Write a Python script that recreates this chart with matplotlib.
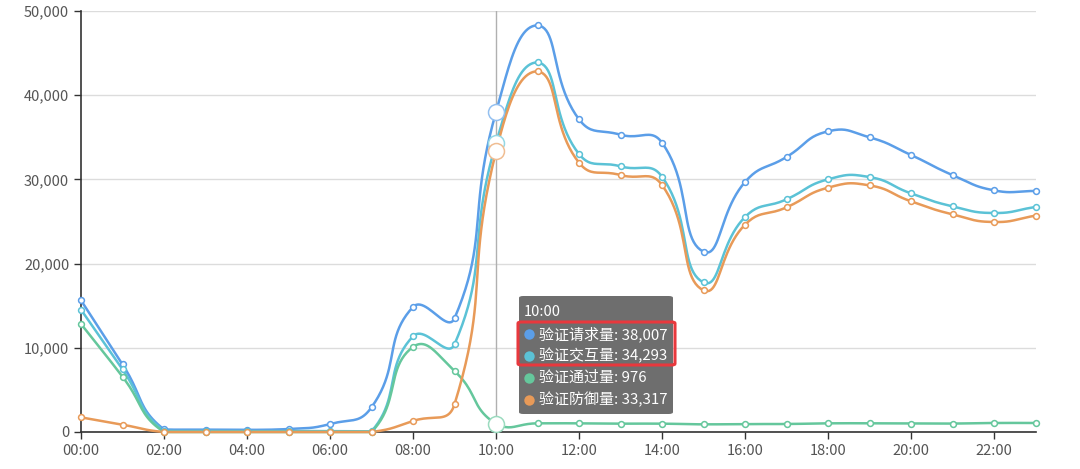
import matplotlib.pyplot as plt
from matplotlib.patches import FancyBboxPatch
from matplotlib.lines import Line2D
from matplotlib.colors import to_rgb
import numpy as np

plt.rcParams['font.family'] = ['Noto Sans CJK SC', 'DejaVu Sans']

# data: hourly values
hours = list(range(24))
tick_labels = ['%02d:00' % h for h in range(0, 24, 2)]

requests = [15640, 8040, 300, 280, 250, 350, 950, 2930, 14850, 13500, 38007, 48300,
            37140, 35310, 34360, 21420, 29690, 32660, 35710, 35000, 32900, 30520, 28700, 28620]
interact = [14530, 7440, 150, 120, 100, 120, 100, 80, 11360, 10410, 34293, 43900,
            33020, 31550, 30320, 17770, 25530, 27630, 30010, 30280, 28340, 26800, 26010, 26720]
passed = [12830, 6570, 0, 0, 0, 0, 0, 0, 10100, 7240, 976, 1030,
          1030, 990, 990, 910, 950, 950, 1030, 1030, 1000, 1000, 1070, 1070]
defense = [1740, 870, 0, 0, 0, 0, 0, 0, 1310, 3290, 33317, 42840,
           31990, 30520, 29330, 16830, 24620, 26680, 29020, 29290, 27400, 25850, 24940, 25690]

names = ['验证请求量', '验证交互量', '验证通过量', '验证防御量']
colors = ['#5b9ee8', '#5bc2d6', '#65c79c', '#e89a58']
series = [requests, interact, passed, defense]
hover_idx = 10

fig = plt.figure(figsize=(10.8, 4.69), dpi=100)
ax = fig.add_axes([0.075, 0.0789, 0.8838, 0.8976])
ax.set_xlim(0, 23)
ax.set_ylim(0, 50000)


def smooth_path(xs, ys, smooth=0.5, n=24):
    # bezier smoothing in pixel space, control points kept inside the series bbox
    pts = ax.transData.transform(np.column_stack([xs, ys]))
    lo = pts.min(axis=0)
    hi = pts.max(axis=0)
    m = len(pts)
    cps = []
    for i in range(m):
        p = pts[i]
        prev = pts[i - 1] if i > 0 else p
        nxt = pts[i + 1] if i < m - 1 else p
        v = nxt - prev
        d0 = np.hypot(*(p - prev))
        d1 = np.hypot(*(p - nxt))
        s = d0 + d1
        if s == 0:
            cps.append((p, p))
            continue
        c0 = np.clip(p - v * smooth * d0 / s, lo, hi)
        c1 = np.clip(p + v * smooth * d1 / s, lo, hi)
        cps.append((c0, c1))
    out = [pts[0]]
    t = np.linspace(0, 1, n)[1:, None]
    for i in range(m - 1):
        p0, p3 = pts[i], pts[i + 1]
        c1, c2 = cps[i][1], cps[i + 1][0]
        seg = ((1 - t) ** 3) * p0 + 3 * ((1 - t) ** 2) * t * c1 + 3 * (1 - t) * t ** 2 * c2 + t ** 3 * p3
        out.extend(seg)
    return ax.transData.inverted().transform(np.array(out))


def lighten(c, f=0.35):
    r = np.array(to_rgb(c))
    return tuple(r + (1 - r) * f)


ax.grid(axis='y', color='#dcdcdc', linewidth=1)
ax.set_axisbelow(True)
ax.axvline(hover_idx, color='#b0b0b0', linewidth=1, zorder=1)

for vals, c in zip(series, colors):
    curve = smooth_path(hours, vals)
    ax.plot(curve[:, 0], curve[:, 1], color=c, linewidth=1.8, zorder=3, clip_on=False,
            solid_capstyle='round')
    ax.plot(hours, vals, 'o', color=c, markerfacecolor='white', markersize=4.2,
            markeredgewidth=1.1, zorder=4, clip_on=False)
    ax.plot([hover_idx], [vals[hover_idx]], 'o', color=lighten(c), markerfacecolor='white',
            markersize=11.5, markeredgewidth=1.1, zorder=5, clip_on=False)

ax.set_xticks(range(0, 24, 2))
ax.set_xticklabels(tick_labels)
ax.set_yticks(range(0, 50001, 10000))
ax.set_yticklabels(['{:,}'.format(v) for v in range(0, 50001, 10000)])
ax.tick_params(axis='both', colors='#333333', labelcolor='#555555', labelsize=10.5,
               length=5, width=1)
for side in ['top', 'right']:
    ax.spines[side].set_visible(False)
for side in ['left', 'bottom']:
    ax.spines[side].set_color('#333333')
    ax.spines[side].set_linewidth(1.2)

# tooltip
W, H = 1080, 469
def fx(px):
    return px / W
def fy(py):
    return 1 - py / H

tip = FancyBboxPatch((fx(519), fy(414)), fx(673) - fx(519), fy(296) - fy(414),
                     boxstyle='round,pad=0,rounding_size=0.004', transform=fig.transFigure,
                     facecolor='#6e6e6e', edgecolor='none', zorder=10)
fig.patches.append(tip)
fig.text(fx(524), fy(312), '10:00', color='white', fontsize=10.5, va='center', ha='left', zorder=11)
vals_text = ['{:,}'.format(s[hover_idx]) for s in series]
for i, (nm, c, vt) in enumerate(zip(names, colors, vals_text)):
    yy = fy(334 + i * 22)
    fig.add_artist(Line2D([fx(529)], [yy], marker='o', markersize=7.5, color=c,
                          markeredgewidth=0, transform=fig.transFigure, zorder=11))
    fig.text(fx(539), yy, nm + ': ' + vt, color='white', fontsize=10.8, va='center', ha='left', zorder=11)

box = FancyBboxPatch((fx(518), fy(365)), fx(675) - fx(518), fy(322) - fy(365),
                     boxstyle='round,pad=0,rounding_size=0.003', transform=fig.transFigure,
                     facecolor='none', edgecolor='#e8383d', linewidth=2.2, zorder=12)
fig.patches.append(box)

fig.savefig('out.png', dpi=100)
